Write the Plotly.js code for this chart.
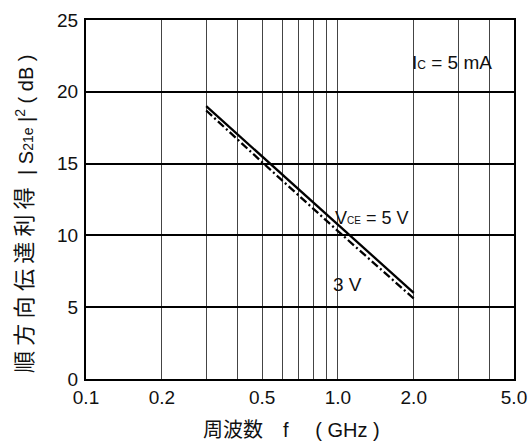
<!DOCTYPE html>
<html>
<head>
<meta charset="utf-8">
<script src="https://cdn.plot.ly/plotly-3.0.1.min.js"></script>
<style>html,body{margin:0;padding:0;background:#fff;}#chart{width:531px;height:443px;}</style>
</head>
<body>
<div id="chart"></div>
<script>
// Data
const freqGHz = [0.3, 0.5, 1.0, 2.0];
const gainVce5 = [19.0, 15.5, 10.7, 6.0];
const gainVce3 = [18.7, 15.1, 10.3, 5.6];

const xTickVals = [0.1, 0.2, 0.3, 0.4, 0.5, 0.6, 0.7, 0.8, 0.9, 1.0, 2.0, 3.0, 4.0, 5.0];
const xTickText = ['0.1', '0.2', '', '', '0.5', '', '', '', '', '1.0', '2.0', '', '', '5.0'];
const yTickVals = [0, 5, 10, 15, 20, 25];

const FONT = 'Liberation Sans, Arial, Noto Sans CJK JP, sans-serif';
const TXT = '#111';

const traces = [
  {x: freqGHz, y: gainVce5, mode: 'lines', type: 'scatter',
   line: {color: '#000', width: 2.3}, showlegend: false, hoverinfo: 'skip'},
  {x: freqGHz, y: gainVce3, mode: 'lines', type: 'scatter',
   line: {color: '#000', width: 2.3, dash: '8px,3px,2px,3px'}, showlegend: false, hoverinfo: 'skip'}
];

const yTitleCJK = '順方向伝達利得'.split('').join('<span style="font-size:19px"> </span>');

const layout = {
  width: 531, height: 443,
  margin: {l: 86, r: 17, t: 20, b: 64},
  paper_bgcolor: '#fff', plot_bgcolor: '#fff',
  font: {family: FONT, size: 19, color: TXT},
  xaxis: {
    type: 'log', range: [Math.log10(0.1), Math.log10(5.0)],
    tickvals: xTickVals, ticktext: xTickText,
    showgrid: true, gridcolor: '#444', gridwidth: 1,
    showline: true, linecolor: '#000', linewidth: 2, mirror: true,
    ticks: '', zeroline: false, tickfont: {size: 19, family: FONT, color: TXT}
  },
  yaxis: {
    range: [0, 25], tickvals: yTickVals,
    showgrid: true, gridcolor: '#000', gridwidth: 2,
    showline: true, linecolor: '#000', linewidth: 2, mirror: true,
    ticks: '', zeroline: false, tickfont: {size: 19, family: FONT, color: TXT},
    ticklabelstandoff: 2
  },
  annotations: [
    {xref: 'paper', yref: 'paper', x: -0.145, y: 0.011, xanchor: 'center', yanchor: 'bottom',
     textangle: -90, showarrow: false, font: {size: 22, family: FONT, color: TXT},
     text: yTitleCJK},
    {xref: 'paper', yref: 'paper', x: -0.145, y: 0.908, xanchor: 'center', yanchor: 'top',
     textangle: -90, showarrow: false, font: {size: 20, family: FONT, color: TXT},
     text: '| S<span style="font-size:14px">21e</span> |<sup>2</sup> ( dB )'},
    {xref: 'paper', yref: 'paper', x: 0.479, y: -0.142, xanchor: 'center', yanchor: 'middle',
     showarrow: false, font: {size: 20, family: FONT, color: TXT},
     text: '周波数\u3000f\u3000\u2004( GHz )'},
    {xref: 'paper', yref: 'paper', x: 0.953, y: 0.883, xanchor: 'right', yanchor: 'middle',
     showarrow: false, font: {size: 19, family: FONT, color: TXT},
     text: 'I<span style="font-size:12px">C</span> = 5 mA'},
    {xref: 'paper', yref: 'paper', x: 0.757, y: 0.448, xanchor: 'right', yanchor: 'middle',
     showarrow: false, font: {size: 18, family: FONT, color: TXT},
     text: 'V<span style="font-size:10px">CE</span> = 5 V'},
    {xref: 'paper', yref: 'paper', x: 0.611, y: 0.262, xanchor: 'center', yanchor: 'middle',
     showarrow: false, font: {size: 19, family: FONT, color: TXT},
     text: '3 V'}
  ]
};

Plotly.newPlot('chart', traces, layout, {staticPlot: true, displayModeBar: false});
</script>
</body>
</html>
